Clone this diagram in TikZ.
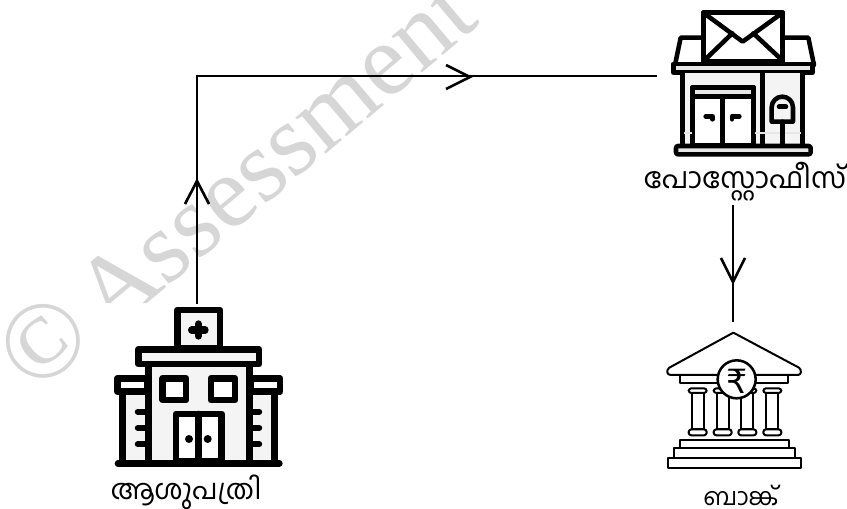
\documentclass[tikz,border=0pt]{standalone}
\usepackage{fontspec}
\setmainfont{Liberation Serif}
\newfontfamily\malfont[Script=Malayalam]{Hind Kochi}
\newfontfamily\symfont{DejaVu Sans}
\usetikzlibrary{calc}
\definecolor{wm}{HTML}{D6D6D6}
\definecolor{pale}{HTML}{F4F4F4}
\definecolor{band}{HTML}{E6E6E6}
\tikzset{
  conn/.style={draw=black,line width=1.75pt},
  head/.style={draw=black,line width=2pt,line join=miter},
  iconbox/.style={inner sep=0pt,outer sep=0pt,draw=none},
  lab/.style={inner sep=0pt},
  water/.style={inner sep=0pt,text=wm,font=\fontsize{77pt}{80pt}\selectfont,rotate=40},
  heavy/.style={draw=black,line width=3.4pt,line join=round,line cap=round},
  hosp/.style={draw=black,line width=5pt,line join=round,line cap=round},
  thin/.style={draw=black,line width=1.5pt,line join=round,line cap=round},
}
\begin{document}
\begin{tikzpicture}[x=0.75pt,y=-0.75pt]
\useasboundingbox (0,0) rectangle (847,509);
\clip (0,0) rectangle (847,509);
\fill[white] (0,0) rectangle (847,509);
% watermark
\node[water,anchor=center,font=\fontsize{82pt}{90pt}\selectfont] (wmc) at (43,341) {©};
\node[water,anchor=base west] (wmt) at (110,335) {Assessment};
\fill[white] (92,303) rectangle (285,470);
% anchor boxes
\node[iconbox,minimum width=120pt,minimum height=99pt] (post) at (737,76) {};
\node[iconbox,minimum width=127.5pt,minimum height=123pt] (hospital) at (197,386) {};
\node[iconbox,minimum width=105pt,minimum height=111pt] (bank) at (733,396) {};
% post office
\begin{scope}[shift={(640,0)},x=0.25pt,y=-0.25pt]
  \draw[heavy,fill=white] (122,113) -- (505,113) -- (522,195) -- (105,195) -- cycle;
  \draw[heavy,fill=white] (190,38) rectangle (428,185);
  \draw[heavy] (190,38) -- (308,125) -- (428,38);
  \draw[heavy] (192,182) -- (277,100);
  \draw[heavy] (428,182) -- (340,100);
  \draw[heavy,fill=band] (100,192) rectangle (518,218);
  \fill[pale] (128,218) rectangle (488,438);
  \draw[heavy] (128,218) -- (128,438);
  \draw[heavy] (488,218) -- (488,438);
  \draw[heavy] (367,218) -- (367,438);
  \draw[heavy,fill=white] (158,262) rectangle (340,435);
  \draw[heavy,fill=band] (158,262) rectangle (340,290);
  \draw[heavy] (248,290) -- (248,435);
  \draw[heavy] (197,349) -- (218,349) -- (218,358);
  \draw[heavy] (298,349) -- (276,349) -- (276,358);
  \draw[line width=1.3pt,draw=band] (132,398) -- (155,398);
  \draw[line width=1.3pt,draw=band] (345,398) -- (484,398);
  \draw[heavy,fill=pale] (395,365) -- (395,322) arc[start angle=180,end angle=360,x radius=32,y radius=32] -- (459,365) -- cycle;
  \draw[heavy] (417,320) -- (438,320);
  \draw[heavy] (427,365) -- (427,435);
  \draw[heavy,fill=band,rounded corners=1.5pt] (108,438) rectangle (512,463);
\end{scope}
% hospital
\begin{scope}[shift={(90,300)},x=0.25pt,y=-0.25pt]
  \draw[hosp,fill=pale] (262,30) rectangle (390,145);
  \draw[line width=5.5pt,line cap=round,draw=black] (325,72) -- (325,108);
  \draw[line width=5.5pt,line cap=round,draw=black] (305,90) -- (345,90);
  \fill[pale] (175,195) rectangle (478,485);
  \fill[pale] (98,275) rectangle (175,485);
  \fill[pale] (478,275) rectangle (553,485);
  \draw[hosp] (98,278) -- (98,485);
  \draw[hosp] (553,278) -- (553,485);
  \draw[hosp,fill=white] (82,235) rectangle (172,275);
  \draw[hosp,fill=white] (482,235) rectangle (570,275);
  \draw[hosp] (175,195) -- (175,485);
  \draw[hosp] (478,195) -- (478,485);
  \draw[hosp,fill=pale] (145,148) rectangle (507,192);
  \draw[hosp,fill=white] (218,235) rectangle (288,300);
  \draw[hosp,fill=white] (363,235) rectangle (435,300);
  \draw[hosp,fill=white] (258,342) -- (395,342) -- (395,485) -- (258,485) -- cycle;
  \draw[hosp] (325,342) -- (325,485);
  \fill (297,417) circle[radius=12];
  \fill (353,417) circle[radius=12];
  \foreach \ry in {335,384,433} {
    \draw[line width=4.3pt,line cap=round] (143,\ry) -- (175,\ry);
    \draw[line width=4.3pt,line cap=round] (478,\ry) -- (508,\ry);
  }
  \draw[hosp] (84,490) -- (568,490);
\end{scope}
% bank
\begin{scope}[shift={(650,320)},x=0.25pt,y=-0.25pt]
  \draw[thin,fill=white] (90,165) rectangle (415,190);
  \foreach \cx in {143,218,292,367} {
    \draw[thin,fill=white] (\cx-18,212) rectangle (\cx+18,328);
    \draw[thin,fill=white,rounded corners=2pt] (\cx-27,205) rectangle (\cx+27,219);
    \draw[thin,fill=white,rounded corners=2pt] (\cx-27,328) rectangle (\cx+27,346);
  }
  \draw[thin,fill=white] (250,38) -- (447,143) .. controls (456,150) and (454,165) .. (444,165) -- (62,165) .. controls (50,165) and (48,150) .. (58,143) -- cycle;
  \draw[thin,line width=1.9pt,fill=white] (260,178) circle[radius=57];
  \node[iconbox,font=\symfont\fontsize{25pt}{26pt}\selectfont] (rupee) at (260,183) {₹};
  \draw[thin,fill=white] (90,360) rectangle (418,385);
  \draw[thin,fill=white] (72,385) rectangle (435,415);
  \draw[thin,fill=white] (55,415) rectangle (452,445);
\end{scope}
% labels
\node[lab,font=\malfont\fontsize{20.8pt}{22pt}\selectfont] (lhospital) at (186,492) {ആശുപത്രി};
\node[lab,font=\malfont\fontsize{21.7pt}{24pt}\selectfont] (lpost) at (745,182) {പോസ്റ്റോഫീസ്};
\node[lab,font=\malfont\fontsize{18pt}{22pt}\selectfont] (lbank) at (741,495) {ബാങ്ക്};
% connectors
\coordinate (corner) at (hospital.north |- post.west);
\coordinate (postout) at (733,205);
\coordinate (tipa) at (197,181);
\coordinate (tipb) at (470,77);
\coordinate (tipc) at (733,282);
\draw[conn,line join=miter] (hospital.north) -- (corner) -- (post.west);
\draw[conn] (postout) -- (bank.north);
\draw[head] ($(tipa)+(-12,23)$) -- (tipa) -- ($(tipa)+(12,23)$);
\draw[head] ($(tipb)+(-24,-12)$) -- (tipb) -- ($(tipb)+(-24,12)$);
\draw[head] ($(tipc)+(-12,-24)$) -- (tipc) -- ($(tipc)+(12,-24)$);
\end{tikzpicture}
\end{document}
